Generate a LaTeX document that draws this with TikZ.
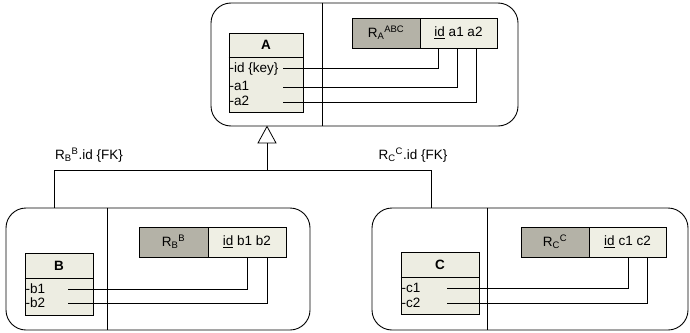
\documentclass[tikz,border=0pt]{standalone}
\usepackage{fontspec}
\setmainfont{Liberation Sans}
\usepackage{xcolor}
\usepackage{tikz}
\usetikzlibrary{positioning}

\definecolor{clsfill}{HTML}{EDEDE2}
\definecolor{relname}{HTML}{B4B2A7}
\definecolor{relcols}{HTML}{EFEFE4}

\begin{document}
\begin{tikzpicture}[x=1pt, y=-1pt,
        font=\fontsize{13.5}{15}\selectfont,
        layer/.style={rectangle, draw, rounded corners=20, line width=0.9pt},
        clshead/.style={rectangle, draw, fill=clsfill, inner sep=0pt, line width=0.9pt},
        clsbody/.style={rectangle, draw, fill=clsfill, inner sep=0pt, line width=0.9pt},
        attr/.style={anchor=west, inner sep=0.5pt},
        relbox/.style={rectangle, draw, fill=relname, minimum height=30, inner sep=0pt, line width=0.9pt},
        colbox/.style={rectangle, draw, fill=relcols, minimum height=30, inner sep=0pt, line width=0.9pt},
        link/.style={line width=0.8pt},
        sep/.style={line width=1.4pt}
    ]
    \useasboundingbox (0,0) rectangle (690,332);

    % Class A with its relation
    \node[layer, minimum width=307, minimum height=123] (layerA) at (364.5,64.5) {};
    \draw[link] (322,0 |- layerA.north) -- (322,0 |- layerA.south);
    \node[clsbody, minimum width=74, minimum height=55] (Abody) at (266,84.5) {};
    \node[clshead, minimum width=74, minimum height=24] (Ahead) at (266,45) {\textbf{A}};
    \draw[sep] (Ahead.south west) -- (Ahead.south east);
    \node[attr] (Aid) at (229,69) {-id {\{key\}}};
    \node[attr] (Aa1) at (229,86) {-a1};
    \node[attr] (Aa2) at (229,101) {-a2};
    \node[relbox, minimum width=68] (RA) at (386,33) {R\textsubscript{A}\textsuperscript{ABC}};
    \node[colbox, minimum width=77] (RAcols) at (458.5,33) {\underline{id} a1 a2};

    % Class B with its relation
    \node[layer, minimum width=304, minimum height=122] (layerB) at (158,269) {};
    \draw[link] (107,0 |- layerB.north) -- (107,0 |- layerB.south);
    \node[clsbody, minimum width=68, minimum height=37] (Bbody) at (59,296.5) {};
    \node[clshead, minimum width=68, minimum height=25] (Bhead) at (59,265.5) {\textbf{B}};
    \draw[sep] (Bhead.south west) -- (Bhead.south east);
    \node[attr] (Bb1) at (25,289) {-b1};
    \node[attr] (Bb2) at (25,303) {-b2};
    \node[relbox, minimum width=69] (RB) at (173.5,242) {R\textsubscript{B}\textsuperscript{B}};
    \node[colbox, minimum width=78] (RBcols) at (247,242) {\underline{id} b1 b2};

    % Class C with its relation
    \node[layer, minimum width=316, minimum height=122] (layerC) at (530,269) {};
    \draw[link] (487,0 |- layerC.north) -- (487,0 |- layerC.south);
    \node[clsbody, minimum width=78, minimum height=37] (Cbody) at (440,295.5) {};
    \node[clshead, minimum width=78, minimum height=25] (Chead) at (440,264.5) {\textbf{C}};
    \draw[sep] (Chead.south west) -- (Chead.south east);
    \node[attr] (Cc1) at (401,288) {-c1};
    \node[attr] (Cc2) at (401,303) {-c2};
    \node[relbox, minimum width=68] (RC) at (555,242) {R\textsubscript{C}\textsuperscript{C}};
    \node[colbox, minimum width=77] (RCcols) at (627.5,242) {\underline{id} c1 c2};

    % attribute to column links
    \coordinate (Aid-out) at (283,68);
    \coordinate (Aa1-out) at (283,87);
    \coordinate (Aa2-out) at (283,102);
    \draw[link] (Aid-out) -| (438,0 |- RAcols.south);
    \draw[link] (Aa1-out) -| (457,0 |- RAcols.south);
    \draw[link] (Aa2-out) -| (476,0 |- RAcols.south);

    \coordinate (Bb1-out) at (68,289);
    \coordinate (Bb2-out) at (68,303);
    \draw[link] (Bb1-out) -| (247,0 |- RBcols.south);
    \draw[link] (Bb2-out) -| (267,0 |- RBcols.south);

    \coordinate (Cc1-out) at (447,288);
    \coordinate (Cc2-out) at (447,303);
    \draw[link] (Cc1-out) -| (628,0 |- RCcols.south);
    \draw[link] (Cc2-out) -| (647,0 |- RCcols.south);

    % Generalisation
    \coordinate (apex) at (267,0 |- layerA.south);
    \coordinate (tri) at (267,143);
    \coordinate (fork) at (267,170);
    \coordinate (Bup) at (54,0 |- layerB.north);
    \coordinate (Cup) at (431,0 |- layerC.north);
    \draw[link, fill=white] (apex) -- (258,143) -- (276,143) -- cycle;
    \draw[link] (tri) -- (fork) -| (Bup);
    \draw[link] (fork) -| (Cup);
    \node (fkB) at (89,155) {R\textsubscript{B}\textsuperscript{B}.id {\{FK\}}};
    \node (fkC) at (413,155) {R\textsubscript{C}\textsuperscript{C}.id {\{FK\}}};

\end{tikzpicture}
\end{document}
